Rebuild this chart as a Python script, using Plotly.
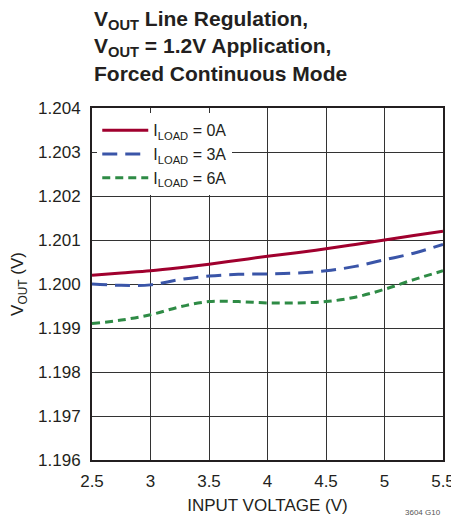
import plotly.graph_objects as go

# Input voltage (V)
vin = [2.5, 2.75, 3.0, 3.25, 3.5, 3.75, 4.0, 4.25, 4.5, 4.75, 5.0, 5.25, 5.5]

# Output voltage (V) per load current
vout_0a = [1.2002, 1.20025, 1.2003, 1.20037, 1.20045, 1.20054, 1.20063, 1.20071, 1.2008, 1.2009, 1.2010, 1.2011, 1.2012]
vout_3a = [1.2000, 1.19997, 1.19998, 1.2001, 1.20018, 1.20022, 1.20023, 1.20025, 1.2003, 1.2004, 1.20055, 1.2007, 1.2009]
vout_6a = [1.1991, 1.19918, 1.1993, 1.19948, 1.1996, 1.1996, 1.19957, 1.19957, 1.1996, 1.1997, 1.19988, 1.2001, 1.2003]

series_names = ['I<sub>LOAD</sub> = 0A', 'I<sub>LOAD</sub> = 3A', 'I<sub>LOAD</sub> = 6A']

x_ticks = [2.5, 3, 3.5, 4, 4.5, 5, 5.5]
y_ticks = [1.196, 1.197, 1.198, 1.199, 1.200, 1.201, 1.202, 1.203, 1.204]
y_labels = ['1.196', '1.197', '1.198', '1.199', '1.200', '1.201', '1.202', '1.203', '1.204']

title_lines = ['V<sub>OUT</sub> Line Regulation,',
               'V<sub>OUT</sub> = 1.2V Application,',
               'Forced Continuous Mode']

FONT = 'Liberation Sans Narrow, Liberation Sans, Arial, sans-serif'
INK = '#231F20'

# page body has an 8px margin, so the figure is a bit smaller than the window
W, H = 451, 511
T, B = 100, 59
PH = H - T - B

fig = go.Figure()

fig.add_trace(go.Scatter(x=vin, y=vout_0a, name=series_names[0], mode='lines',
                         line=dict(color='#A0002E', width=3, shape='spline')))
fig.add_trace(go.Scatter(x=vin, y=vout_3a, name=series_names[1], mode='lines',
                         line=dict(color='#3A55A8', width=3, shape='spline', dash='15px,8px')))
fig.add_trace(go.Scatter(x=vin, y=vout_6a, name=series_names[2], mode='lines',
                         line=dict(color='#2E8B45', width=3, shape='spline', dash='8px,5px')))

fig.update_layout(
    width=W, height=H,
    margin=dict(l=84, r=16, t=T, b=B, autoexpand=False),
    paper_bgcolor='white', plot_bgcolor='white',
    font=dict(family=FONT, size=17, color=INK),
    showlegend=True,
    legend=dict(x=0.015, y=0.985, xanchor='left', yanchor='top',
                bgcolor='white', borderwidth=0,
                font=dict(family=FONT, size=16, color=INK),
                tracegroupgap=0, itemwidth=46),
    xaxis=dict(
        range=[2.5, 5.5], tickvals=x_ticks, ticktext=[str(v) for v in x_ticks],
        showgrid=True, gridcolor='#333333', gridwidth=1,
        showline=True, linecolor=INK, linewidth=2, mirror=True,
        ticks='', zeroline=False, automargin=False, ticklabelstandoff=5,
        title=dict(text='INPUT VOLTAGE (V)', font=dict(size=17), standoff=9),
    ),
    yaxis=dict(
        range=[1.196, 1.204], tickvals=y_ticks, ticktext=y_labels,
        showgrid=True, gridcolor='#333333', gridwidth=1,
        showline=True, linecolor=INK, linewidth=2, mirror=True,
        ticks='', zeroline=False, automargin=False, ticklabelstandoff=6,
        title=dict(text='V<sub>OUT</sub> (V)', font=dict(size=17), standoff=10),
    ),
)

# Title lines placed one by one (figure pixels from top)
for i, line in enumerate(title_lines):
    fig.add_annotation(text='<b>' + line + '</b>', xref='paper', yref='paper',
                       x=0.0, y=1 + (T - (12 + 27 * i)) / PH,
                       xanchor='left', yanchor='middle', showarrow=False,
                       font=dict(family=FONT, size=21, color=INK))

fig.add_annotation(text='3604 G10', x=1.0, y=-(498 - (H - B)) / PH, xref='paper', yref='paper',
                   xanchor='right', yanchor='top', showarrow=False,
                   font=dict(size=8, color='#555555'))

fig.write_html('out.html')
